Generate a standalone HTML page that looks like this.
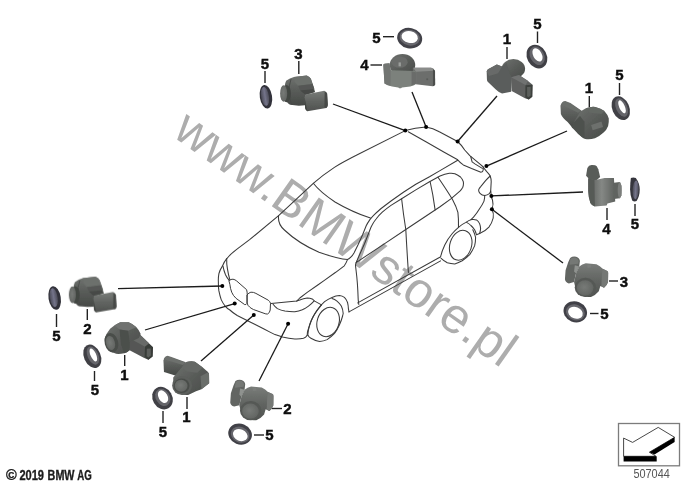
<!DOCTYPE html>
<html>
<head>
<meta charset="utf-8">
<title>Park Distance Control sensors</title>
<style>
html,body{margin:0;padding:0;background:#fff;}
body{width:686px;height:484px;overflow:hidden;position:relative;font-family:"Liberation Sans",sans-serif;}
svg{position:absolute;left:0;top:0;display:block;}
.car path,.car ellipse{fill:none;stroke:#3a3a3a;stroke-width:1.05;stroke-linecap:round;stroke-linejoin:round;}
.lead line{stroke:#1a1a1a;stroke-width:1.3;}
.lead circle{fill:#000;}
.lbl text{font-family:"Liberation Sans",sans-serif;font-weight:bold;font-size:15px;fill:#111;stroke:#111;stroke-width:0.45;text-anchor:middle;}
.lbl line{stroke:#222;stroke-width:1.4;}
</style>
</head>
<body>
<svg width="686" height="484" viewBox="0 0 686 484">
<defs>
<filter id="soft" x="-5%" y="-5%" width="110%" height="110%"><feGaussianBlur stdDeviation="0.45"/></filter>
<filter id="soft2" x="-10%" y="-10%" width="120%" height="120%"><feGaussianBlur stdDeviation="0.5"/></filter>
</defs>
<rect width="686" height="484" fill="#fff"/>

<!-- ===================== WATERMARK ===================== -->
<g filter="url(#soft)">
<text x="0" y="0" transform="translate(171.3,135.4) rotate(35.2)" font-family="Liberation Sans, sans-serif" font-size="49.8" fill="#adadad">www.BMWstore.pl</text>
</g>

<!-- ===================== CAR ===================== -->
<g class="car" filter="url(#soft)">
<!-- roof far edge + hood left edge -->
<path d="M405.3 130.6 L359.3 153.8 Q342 162.5 334.4 167.4 Q323 175 313.3 183.3 L278.6 215.6 L249.6 239.7 L237 249.2 Q230 254.5 226.7 258.7"/>
<!-- spoiler outer edge -->
<path d="M405.3 130.6 Q415 127.5 426.1 126.9 Q433 128 439.3 131.8 L457.6 141.5 Q462 145.5 464.7 150 L469.8 155.6 L480.9 164.9 L483.3 167"/>
<!-- roof rear inner edge -->
<path d="M408.2 131.8 L426.8 142.3 L444.2 152.2 L457.7 159.8 Q460.5 163 463.3 164.9 L471.6 168.6 L480.9 172.3 Q483 172.2 483.2 170 L483.3 167.5"/>
<path d="M470.7 156.5 L472.1 161.9 L475.3 164.1 L482.3 168.4"/>
<!-- roof near edge (outer) -->
<path d="M457.7 160.2 L440 170.6 L429.5 176.8 L415.8 184.3 L403.4 192.3 L391 201 L381.1 208.5 Q376.5 212.5 373.6 215.3 Q371.5 217.5 369.9 219.6 Q367.5 223 366.2 225.8 L362.6 234.7 L358.3 244.3 L354 252.9 Q352.5 255.5 350.8 257.2 Q349.3 258.8 347.6 259.4"/>
<!-- windshield top edge -->
<path d="M313.3 183.3 Q320 192 335 202 Q352 212 370.4 218.1"/>
<!-- windshield bottom / hood rear edge -->
<path d="M278.6 215.6 Q277.5 224 284.4 230 Q298 243 319 252.3 Q339 259.3 347.6 259.4"/>
<!-- hood right edge -->
<path d="M347.6 259.4 Q346 263.5 344.3 265.8 L335.7 272.3 L324 280.6 L317.8 285 L307.2 292.4 L299.8 298 L296.7 301.1"/>
<!-- side window outline -->
<path d="M356.1 262.6 L359.4 255.1 L364.7 243.3 L369.9 230 Q371 227 372.4 224.6 Q374 221.5 376.1 219 Q379 215.2 382.3 212.2 Q386.5 208.5 391 205.4 L401.6 198.8 L415.8 189.9 L429.5 181.8 L440 176 Q445 174 449.3 173.3 Q452.5 173 454.9 173.7 Q458 175 460.5 177 Q462.5 179 463.3 181.6 Q463.8 184.5 462.8 187.2 Q461.5 189.5 459.9 191.2 L451.2 198.6 L440 206.7 L405.8 229.5 L384.7 243.6 Z"/>
<!-- pillars -->
<path d="M401.6 198.8 Q403.3 214 405.8 229.5 Q407 252 408.4 272.5"/>
<path d="M430.1 181.5 L432.8 194.8 L435.1 209.9"/>
<path d="M438 177.2 Q446.7 189.9 452.5 199.5 Q456.5 207 457.9 212.4 Q458.7 219 458.5 227.3"/>
<!-- front door front edge -->
<path d="M356.1 262.6 Q355.4 264.5 355.6 266.5 L356.2 271.5 Q357.6 282 358.2 299.6 L358.8 304.5"/>
<!-- sill -->
<path d="M357.7 302.9 L439.8 257.3"/>
<path d="M349 311.9 L440.6 260.9"/>
<!-- front bumper / face -->
<path d="M226.7 258.7 Q224 262 222.4 266.1 Q219.5 270.5 218.9 273.6 Q218.1 278 218.4 282.3 Q218.3 287 218.9 290.9 Q219.8 295.5 221.2 299.6 Q222.8 303 224.9 305.8 Q227 308.3 229.9 310 Q233 313 237.2 315.5 L249.6 321.7 L264.5 329.2 L270 332.1 L275 334.6 Q279 336 282.4 337.1 Q289 338.6 294.8 339 Q300 339.2 303.5 338.3 Q306 337.3 307.2 335.2"/>
<!-- inner front line (hood leading edge down to left lamp) -->
<path d="M226.7 258.7 Q226.5 264 227.4 268.6 Q228.3 274.5 229.9 279.8"/>
<path d="M223 266.1 Q223.8 270.5 225.5 274.8 Q227 278 229.2 280.4"/>
<!-- kidneys -->
<path d="M229.2 280.4 Q231 279 233 279.2 Q235 279.5 236.7 281 L246.6 289.7 Q247.3 292 247.2 294.7 L247 303.4 Q246 305 244.7 304.6 L236.1 298.4 Q233 295.5 231.7 292.2 Q230.3 288.5 229.9 284.7 Z" style="stroke-width:1.0"/>
<path d="M247.2 294.7 Q249 292.6 250.9 292.2 Q253.5 292 255.9 293.4 L268.3 300.2 Q270 301.5 270.5 303.3 L270.2 310 Q269.8 313 267.5 314 Q266 314.2 264 313.3 L253.4 309.5 Q250.5 308 249.7 307.1 Q247.5 305.5 247.2 303.4 Z" style="stroke-width:1.0"/>
<!-- right headlight -->
<path d="M271 303.6 L296.7 301.1 L299.8 299.9 Q303.5 298.5 307.2 298 Q310 298 312.2 298.9 L314.7 301.1 L321.5 304.9"/>
<path d="M273.1 304.2 Q275 306.8 277.4 308.6 Q281 310.3 284.9 311.1 Q290 311.8 294.8 311.7 Q298.8 311.2 302.3 309.8 Q305.7 308.2 308.5 306.1 Q311.5 303.8 314 301.1"/>
<!-- front wheel arch + fender -->
<path d="M307.2 335.2 Q307.3 331.5 308.5 328.4 Q309.8 323.5 312.2 318.5 Q315 313 318.4 308.6 Q321.2 304.8 324.6 301.7 Q328 299 332 297.4 Q336 295.7 339.5 295.5 Q342.3 295.8 344.4 297.4 Q346.5 299.5 347.5 302.4 Q348.3 305.5 348.4 308.6 L349 311.9"/>
<path d="M332 298.6 Q334.8 299.5 337 301.1 Q339.6 303.3 341.3 306.1 Q343 309.5 343.2 313.5 L342.6 316"/>
<!-- front wheel tyre -->
<path d="M321.5 304.9 Q316.8 310 313.4 316 Q310.8 321 309.5 325.9 Q308 330.5 307.8 334.6 Q308.5 337 310.9 338.3 Q315 340.8 319.6 341.5 Q323.5 341.3 327.1 339.6 Q331.2 337 334.5 333.4 Q337.5 329.3 339.5 324.7 Q341.5 320.3 342.6 316"/>
<ellipse cx="328.1" cy="322" rx="10.9" ry="15" transform="rotate(18 328.1 322)"/>
<!-- rear wheel arch -->
<path d="M440.5 257.1 Q442 250.5 444.9 244.7 Q448 238.5 452.3 233.5 Q455.3 230 458.5 227.3 Q462 224.3 465.9 222.4 Q468.8 220.5 471.5 219.6 Q474.3 219.2 476.5 219.9 Q478.5 221.2 479.6 223.6 Q480.5 226 480.6 228.6 Q480.4 231.2 479.6 233.5"/>
<path d="M466.6 222.4 Q469 223.6 470.9 225.5 Q473 227.4 474.6 229.8 Q475.8 232.2 476.5 234.8 L479.6 233.5"/>
<path d="M472.8 229.8 Q474.6 233.3 475.6 237.3 Q475.6 241.7 474.6 245.9 Q472.6 250.6 469.7 254.6 Q466.3 258 462.2 260.8 Q458.6 262.8 454.8 263.9 Q450.8 263.8 447.3 262.7 Q443.8 260.8 441.1 258.3"/>
<ellipse cx="460.7" cy="245.3" rx="10.8" ry="15.3" transform="rotate(18 460.7 245.3)"/>
<!-- rear bumper / body rear edge -->
<path d="M479.6 233.5 Q485.5 231 488.9 227.1 Q492 223 493.2 218 Q494 213.5 492 209.3 Q493.8 204.3 492.5 200 Q491.2 197.5 491.2 195 L490.7 190.9 L491.2 181.6 Q491.3 179 490.2 176 Q489.5 174.5 486.5 171.4 L483.3 167.2"/>

<!-- tail light -->
<path d="M490.2 176 Q487.5 178.5 485.6 180.7 L480.9 186.3 Q478.8 188.5 478.6 190 Q478.6 192 480 193.3 Q482 195.3 484.7 195.6 Q487.5 195.3 489.3 193.7 Q490.5 192.5 490.7 190.9"/>
<!-- rear fender line -->
<path d="M471 219.7 L473.5 217.2 Q477 213 479.7 208.5 Q482.5 204.5 484 201.1 Q484.8 198 484.7 195.4"/>
</g>

<!-- ===================== LEADERS ===================== -->
<g class="lead" filter="url(#soft)">
<line x1="333" y1="104" x2="405.3" y2="130.6"/><circle cx="405.3" cy="130.6" r="2.0"/>
<line x1="412" y1="92" x2="426.1" y2="126.9"/><circle cx="426.1" cy="126.9" r="2.0"/>
<line x1="497" y1="96" x2="457.6" y2="141.5"/><circle cx="457.6" cy="141.5" r="2.0"/>
<line x1="567" y1="131" x2="486.4" y2="166.1"/><circle cx="486.4" cy="166.1" r="2.0"/>
<line x1="583" y1="192" x2="491.4" y2="195.9"/><circle cx="491.4" cy="195.9" r="2.0"/>
<line x1="563" y1="263" x2="491.9" y2="209.3"/><circle cx="491.9" cy="209.3" r="2.0"/>
<line x1="118" y1="288.6" x2="222.3" y2="286"/><circle cx="222.3" cy="286" r="2.0"/>
<line x1="145" y1="330" x2="234.7" y2="303.6"/><circle cx="234.7" cy="303.6" r="2.0"/>
<line x1="201" y1="361" x2="253.8" y2="315"/><circle cx="253.8" cy="315" r="2.0"/>
<line x1="259" y1="381" x2="288.1" y2="323.7"/><circle cx="288.1" cy="323.7" r="2.0"/>
</g>

<!-- ===================== SENSORS ===================== -->
<defs>
<linearGradient id="gV" x1="0" y1="0" x2="0" y2="1"><stop offset="0" stop-color="#717471"/><stop offset="0.45" stop-color="#5b5e5b"/><stop offset="1" stop-color="#464946"/></linearGradient>
<linearGradient id="gV2" x1="0" y1="0" x2="0" y2="1"><stop offset="0" stop-color="#797c79"/><stop offset="0.5" stop-color="#626562"/><stop offset="1" stop-color="#4f524f"/></linearGradient>
<linearGradient id="gH" x1="0" y1="0" x2="1" y2="0"><stop offset="0" stop-color="#575a57"/><stop offset="0.5" stop-color="#858885"/><stop offset="1" stop-color="#5d605d"/></linearGradient>
<linearGradient id="gD" x1="0" y1="0" x2="1" y2="1"><stop offset="0" stop-color="#6f726f"/><stop offset="0.5" stop-color="#595c59"/><stop offset="1" stop-color="#474a47"/></linearGradient>
<radialGradient id="gF" cx="0.45" cy="0.45" r="0.6"><stop offset="0" stop-color="#777a77"/><stop offset="1" stop-color="#616461"/></radialGradient>
<linearGradient id="gCap" x1="0" y1="0" x2="1" y2="0"><stop offset="0" stop-color="#4a4a56"/><stop offset="0.5" stop-color="#74748a"/><stop offset="1" stop-color="#4c4c58"/></linearGradient>

<!-- Shape A : sensor seen from front-left with connector to the right -->
<g id="sA">
  <path d="M262 114 Q290 92 322 84 L420 72 Q444 82 452 98 L478 175 L483 200 L412 222 L407 302 L360 305 L292 298 Q262 280 252 240 Q246 200 250 160 Q254 130 262 114 Z" fill="url(#gV)"/>
  <path d="M322 84 L420 72 Q444 82 452 98 L466 138 L354 152 L326 122 Z" fill="#6c6f6c"/>
  <path d="M354 152 L466 138 L478 175 L372 189 Z" fill="#545754"/>
  <path d="M300 100 Q282 150 284 210 Q288 260 306 296" stroke="#464946" stroke-width="7" fill="none"/>
  <ellipse cx="266" cy="212" rx="33" ry="67" fill="#434643"/>
  <ellipse cx="243" cy="211" rx="27" ry="64" fill="url(#gF)"/>
  <path d="M370 188 L470 177 L484 199 L410 221 Z" fill="#464946"/>
  <path d="M410 218 L555 190 Q572 198 577 214 L582 300 Q580 314 570 322 L425 347 Q410 338 408 322 L404 240 Z" fill="url(#gV2)"/>
  <path d="M558 196 Q572 200 577 214 L582 300 Q580 314 570 322 L556 316 Z" fill="#474a47"/>
  <path d="M404 240 L425 347 Q410 338 408 322 Z" fill="#434643"/>
</g>
<!-- cap seen edge-on (for A) -->
<g id="rA">
  <ellipse cx="107" cy="236" rx="47" ry="91" transform="rotate(-9 107 236)" fill="#33333b"/>
  <ellipse cx="100" cy="233" rx="30" ry="73" transform="rotate(-9 100 233)" fill="url(#gCap)"/>
</g>
<!-- Shape F : sensor from front-below with connector hook up-left -->
<g id="sF">
  <path d="M170 76 Q192 62 216 68 Q244 80 245 100 L240 142 L216 192 L200 262 L160 272 Q132 262 130 240 L135 170 L155 110 Z" fill="#626562"/>
  <path d="M172 82 Q195 68 215 74 Q235 84 236 100 L232 120 L165 128 Z" fill="#757875"/>
  <path d="M206 132 L240 142 L216 196 L200 180 Z" fill="#8f928f"/>
  <path d="M240 142 Q262 124 290 118 L372 125 Q400 138 420 160 L455 176 Q462 180 462 190 L461 262 Q452 290 430 306 L402 292 L390 332 Q366 362 330 376 Q290 380 260 366 Q228 346 214 320 L200 262 L216 194 Z" fill="url(#gV2)"/>
  <path d="M420 160 L455 176 Q462 180 462 190 L461 262 Q452 290 430 306 L410 292 L414 200 Z" fill="#757875"/>
  <ellipse cx="287" cy="303" rx="82" ry="74" fill="#555855"/>
  <ellipse cx="285" cy="306" rx="64" ry="58" fill="url(#gF)"/>
  <path d="M300 128 L330 126 L332 150 L304 152 Z" fill="#7b7e7b"/>
</g>
</defs>

<g id="sensors" filter="url(#soft2)">
<!-- S3 top-left + cap -->
<g transform="translate(252,66) scale(0.130233)"><use href="#sA"/><use href="#rA"/></g>
<!-- S2 left + cap -->
<g transform="translate(40.7,267.3) scale(0.130233)"><use href="#sA"/><use href="#rA"/></g>

<!-- S4 top (origin 366,40) -->
<g transform="translate(366,40) scale(0.130233)">
  <ellipse cx="280" cy="192" rx="98" ry="85" fill="url(#gD)"/>
  <ellipse cx="258" cy="170" rx="62" ry="44" fill="#6a6c6a"/>
  <path d="M360 214 L500 214 Q522 220 529 236 L531 344 Q524 354 512 356 L380 340 L358 300 Z" fill="#6c6e6c"/>
  <path d="M362 214 L500 214 Q518 220 525 236 L384 244 Z" fill="#8a8c8a"/>
  <path d="M514 224 Q526 228 530 238 L531 344 Q524 354 514 356 Z" fill="#4b4e4b"/>
  <path d="M133 190 Q134 184 142 182 L180 178 L190 232 L372 238 L388 250 L388 334 Q374 350 340 357 L276 364 Q262 378 248 364 L200 358 Q160 350 142 334 Z" fill="#7b817b"/>
  <path d="M133 190 Q134 184 142 182 L180 178 L190 232 L188 352 Q160 346 142 334 Z" fill="#727472"/>
  <path d="M350 240 L388 250 L388 334 L350 350 Z" fill="#6a6c6a"/>
  <rect x="250" y="172" width="18" height="30" fill="#9b9e9b"/>
  <circle cx="470" cy="302" r="8" fill="#595c59"/>
</g>
<!-- ring for S4 top -->
<g transform="translate(409.7,38.2) rotate(12)">
  <ellipse cx="0" cy="0" rx="12.6" ry="10.2" fill="#424248"/>
  <ellipse cx="-0.1" cy="-0.5" rx="10.2" ry="7.8" fill="#68686e"/>
  <ellipse cx="-0.2" cy="-1.1" rx="8.3" ry="5.9" fill="#fff"/>
</g>

<!-- S1 top-right (origin 476,42) -->
<g transform="translate(476,42) scale(0.130233)">
  <ellipse cx="287" cy="205" rx="90" ry="74" fill="url(#gD)"/>
  <path d="M82 226 Q84 214 96 208 L160 172 L200 188 L235 160 L262 250 L276 276 L270 382 L200 396 Q170 382 150 362 L92 308 Q84 300 84 288 Z" fill="#5a5d5b"/>
  <path d="M82 226 Q84 214 96 208 L160 172 L200 188 L170 240 L100 262 Z" fill="#686b69"/>
  <path d="M270 270 L330 254 L400 300 L436 330 L432 420 L406 441 L376 432 L274 376 Z" fill="#5e605f"/>
  <path d="M270 270 L330 254 L400 300 L380 330 Z" fill="#707271"/>
  <path d="M380 332 L432 328 L432 420 L404 441 L378 426 Z" fill="#3c3f3c"/>
  <path d="M392 345 L420 343 L420 410 L404 424 L392 416 Z" fill="#5b5e5b"/>
</g>
<g transform="translate(536.9,56.6) rotate(-28)">
  <ellipse cx="0" cy="0" rx="9.8" ry="12.4" fill="#3f3f45"/>
  <ellipse cx="0.6" cy="-0.6" rx="7.0" ry="9.8" fill="#65656b"/>
  <ellipse cx="1.3" cy="-1.2" rx="4.3" ry="7.2" fill="#fff"/>
</g>

<!-- S1 right (origin 552,88) -->
<g transform="translate(552,88) scale(0.130233)">
  <path d="M65 136 Q74 100 102 100 L142 116 L222 170 L262 200 L230 300 L160 310 L120 262 Q80 230 68 200 Z" fill="url(#gV)"/>
  <path d="M72 126 Q84 104 102 104 L142 120 L222 174 L200 190 L120 150 Z" fill="#6b6e6b"/>
  <path d="M215 182 L260 156 Q300 140 332 145 Q376 156 402 176 Q430 206 436 234 Q438 266 431 292 Q420 322 396 342 Q364 372 330 386 Q290 396 256 391 Q224 376 200 352 L160 302 L170 262 Z" fill="url(#gD)"/>
  <path d="M150 300 L170 262 L215 215 L250 260 L250 391 Q224 376 200 352 Z" fill="#4e514e"/>
  <path d="M300 284 L380 258 L392 300 L312 324 Z" fill="#6d706d"/>
  <path d="M260 156 Q300 140 332 145 Q376 156 402 176 L380 200 L290 190 Z" fill="#646764"/>
</g>
<g transform="translate(620.8,108.2) rotate(-24)">
  <ellipse cx="0" cy="0" rx="8.5" ry="12.4" fill="#3f3f45"/>
  <ellipse cx="1.0" cy="-0.4" rx="5.6" ry="9.8" fill="#65656b"/>
  <ellipse cx="1.7" cy="-0.8" rx="2.8" ry="7.0" fill="#fff"/>
</g>

<!-- S4 right (origin 572,152) -->
<g transform="translate(572,152) scale(0.130233)">
  <path d="M118 122 Q128 100 150 99 Q182 98 190 110 L202 132 L216 192 L172 232 L126 202 L108 182 Z" fill="#595c59"/>
  <path d="M125 202 L172 216 L250 200 L322 200 L332 380 L272 396 L266 411 L176 419 Q150 408 141 391 Q126 350 125 300 Z" fill="url(#gH)"/>
  <path d="M125 202 L172 216 L176 419 Q150 408 141 391 Q126 350 125 300 Z" fill="#575a57"/>
  <path d="M322 236 L366 230 L380 260 L380 332 L366 356 L322 361 Z" fill="#616461"/>
  <ellipse cx="366" cy="294" rx="15" ry="63" fill="#7b7e7b"/>
  <!-- cap -->
  <path d="M452 200 Q470 192 490 200 Q520 240 520 290 Q520 340 496 376 Q478 384 462 372 Q446 330 446 286 Q446 240 452 200 Z" fill="#36363e"/>
  <ellipse cx="489" cy="290" rx="23" ry="72" transform="rotate(3 489 290)" fill="url(#gCap)"/>
</g>

<!-- S3 bottom-right (origin 548,248) -->
<g transform="translate(548,248) scale(0.130233)"><use href="#sF"/></g>
<g transform="translate(575.3,311.8) rotate(22)">
  <ellipse cx="0" cy="0" rx="12" ry="10.4" fill="#404046"/>
  <ellipse cx="0.3" cy="0.5" rx="9.6" ry="7.8" fill="#66666c"/>
  <ellipse cx="0.5" cy="0.9" rx="7.6" ry="5.7" fill="#fff"/>
</g>
<!-- S2 bottom -->
<g transform="translate(213.3,371.2) scale(0.130233)"><use href="#sF"/></g>
<g transform="translate(240.1,434.1) rotate(22)">
  <ellipse cx="0" cy="0" rx="12" ry="10.4" fill="#404046"/>
  <ellipse cx="0.3" cy="0.5" rx="9.6" ry="7.8" fill="#66666c"/>
  <ellipse cx="0.5" cy="0.9" rx="7.6" ry="5.7" fill="#fff"/>
</g>

<!-- S1 left-2 (origin 76,312) -->
<g transform="translate(76,312) scale(0.130233)">
  <path d="M400 196 L482 165 L560 240 L591 270 L586 341 L556 366 L520 351 L408 292 Z" fill="#545754"/>
  <path d="M400 196 L482 165 L560 240 L530 266 Z" fill="#676a67"/>
  <path d="M530 266 L560 244 L591 270 L589 341 L556 366 L527 346 Z" fill="#393c39"/>
  <path d="M544 282 L574 280 L575 334 L556 350 L543 340 Z" fill="#5b5e5b"/>
  <path d="M220 204 Q232 164 262 128 Q296 96 340 78 L404 78 Q440 92 464 118 Q484 140 497 168 L482 200 L412 232 L411 294 Q392 312 370 317 Q336 324 308 321 Q272 310 250 292 Q228 262 222 232 Z" fill="url(#gD)"/>
  <path d="M296 104 Q318 88 340 78 L404 78 Q440 92 464 118 L400 144 L334 134 Z" fill="#6f726f"/>
  <path d="M334 134 L400 144 L412 232 L411 294 Q392 312 370 317 L345 250 Z" fill="#4c4f4c"/>
  <ellipse cx="272" cy="236" rx="52" ry="76" transform="rotate(-14 272 236)" fill="#4a4d4a"/>
  <ellipse cx="265" cy="238" rx="34" ry="55" transform="rotate(-14 265 238)" fill="url(#gF)"/>
</g>
<g transform="translate(92.3,356.3) rotate(-24)">
  <ellipse cx="0" cy="0" rx="8.3" ry="12.2" fill="#3f3f45"/>
  <ellipse cx="0.9" cy="-0.4" rx="5.4" ry="9.6" fill="#65656b"/>
  <ellipse cx="1.5" cy="-0.8" rx="2.8" ry="7.0" fill="#fff"/>
</g>

<!-- S1 left-3 (origin 140,348) -->
<g transform="translate(140,348) scale(0.130233)">
  <path d="M180 96 Q188 62 212 60 L242 70 L352 110 L332 162 L270 212 L184 184 Z" fill="url(#gV)"/>
  <path d="M186 84 Q194 66 212 64 L242 74 L350 114 L330 130 L215 96 Z" fill="#6d706d"/>
  <path d="M255 226 L320 150 L356 108 Q390 98 422 105 L482 150 L520 182 Q530 190 530 202 L531 270 L472 316 L430 332 L370 361 Q330 364 300 351 Q268 330 255 301 Z" fill="url(#gD)"/>
  <path d="M320 150 L356 108 Q390 98 422 105 L482 150 L440 190 L360 180 Z" fill="#656865"/>
  <path d="M465 216 L520 188 Q530 192 530 202 L531 270 L472 316 Z" fill="#6b6e6b"/>
  <ellipse cx="324" cy="288" rx="77" ry="73" fill="#5b5e5b"/>
  <ellipse cx="320" cy="290" rx="60" ry="56" fill="#4a4d4a"/>
  <ellipse cx="316" cy="290" rx="49" ry="46" fill="url(#gF)"/>
</g>
<g transform="translate(162.5,398.1) rotate(-30)">
  <ellipse cx="0" cy="0" rx="9.8" ry="11.8" fill="#3f3f45"/>
  <ellipse cx="0.6" cy="-0.5" rx="7.0" ry="9.2" fill="#65656b"/>
  <ellipse cx="1.2" cy="-1.0" rx="4.5" ry="6.8" fill="#fff"/>
</g>
</g>

<!-- ===================== LABELS ===================== -->
<g class="lbl" filter="url(#soft)">
<!-- top-left group -->
<text x="265" y="69">5</text><line x1="265" y1="71" x2="265" y2="83"/>
<text x="298.5" y="58.5">3</text><line x1="298.8" y1="61" x2="298.8" y2="74"/>
<!-- top group -->
<text x="376.5" y="42.5">5</text><line x1="383" y1="36.7" x2="394" y2="36.7"/>
<text x="364.5" y="70">4</text><line x1="370.5" y1="65" x2="382" y2="65"/>
<!-- top right 1 -->
<text x="507" y="44">1</text><line x1="507" y1="47" x2="507" y2="59"/>
<text x="537.5" y="29">5</text><line x1="537.5" y1="31.5" x2="537.5" y2="43"/>
<!-- right 1 -->
<text x="589" y="93">1</text><line x1="589.3" y1="96" x2="589.3" y2="107"/>
<text x="619.5" y="80">5</text><line x1="619.5" y1="83" x2="619.5" y2="95"/>
<!-- right 4 -->
<text x="606.5" y="234">4</text><line x1="607" y1="208" x2="607" y2="220"/>
<text x="635" y="229">5</text><line x1="635" y1="204" x2="635" y2="216"/>
<!-- bottom right 3 -->
<text x="624" y="287">3</text><line x1="609" y1="281" x2="618" y2="281"/>
<text x="604.5" y="319">5</text><line x1="590" y1="313.5" x2="598.5" y2="313.5"/>
<!-- left 2 -->
<text x="56.5" y="340.5">5</text><line x1="56.5" y1="314" x2="56.5" y2="327"/>
<text x="87.5" y="334">2</text><line x1="87.3" y1="309" x2="87.3" y2="320"/>
<!-- left 1 a -->
<text x="124.5" y="379.5">1</text><line x1="124.7" y1="355" x2="124.7" y2="366"/>
<text x="95" y="395">5</text><line x1="94.5" y1="371" x2="94.5" y2="381"/>
<!-- left 1 b -->
<text x="186.5" y="421.5">1</text><line x1="187" y1="397" x2="187" y2="409"/>
<text x="163" y="437">5</text><line x1="163" y1="411" x2="163" y2="423"/>
<!-- bottom 2 -->
<text x="287.5" y="413.5">2</text><line x1="272" y1="408.5" x2="282" y2="408.5"/>
<text x="269.5" y="440">5</text><line x1="254" y1="435" x2="264" y2="435"/>
</g>

<!-- ===================== FOOTER ===================== -->
<g filter="url(#soft)">
<g font-family="Liberation Sans, sans-serif" font-weight="bold" font-size="14.3" fill="#1c1c1c" stroke="#1c1c1c" stroke-width="0.35">
<text transform="translate(5.9,480) scale(1.02,1)">©</text>
<text transform="translate(19.4,480) scale(0.775,1)">2019</text>
<text transform="translate(47.6,480) scale(0.755,1)">BMW</text>
<text transform="translate(77.2,480) scale(0.68,1)">AG</text>
</g>
<rect x="618.5" y="423.5" width="61" height="42.3" fill="#fff" stroke="#7c7c7c" stroke-width="1.3"/>
<path d="M623.6 438.1 L632.6 442.4 L658.2 427.4 L674.6 437.3 L649.4 452.2 L656 456.3 L623.6 456.3 Z" fill="#fff" stroke="#333" stroke-width="0.9" stroke-linejoin="miter"/>
<path d="M623.6 456.3 L656.7 456.3 L656.7 461.4 L623.6 461.4 Z" fill="#000"/>
<path d="M649.4 452.2 L674.6 437.3 L674.6 441.9 L654.5 454.6 Z" fill="#000"/>
<text transform="translate(633.4,478.3) scale(0.84,1)" font-family="Liberation Sans, sans-serif" font-size="13" fill="#555">507044</text>
</g>
</svg>
</body>
</html>
